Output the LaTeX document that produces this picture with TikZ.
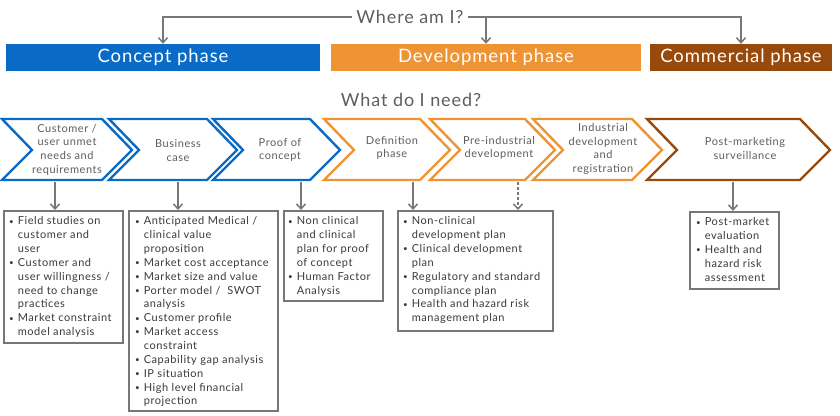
\documentclass[tikz,border=0pt]{standalone}
\usepackage{fontspec}
\setmainfont{Lato}[LetterSpace=5]
\usetikzlibrary{arrows.meta}
\definecolor{cblue}{HTML}{0A6BC6}
\definecolor{corange}{HTML}{EE9434}
\definecolor{cbrown}{HTML}{984A0C}
\definecolor{cgray}{HTML}{777777}
\definecolor{ctext}{HTML}{5E5E5E}
\definecolor{cbody}{HTML}{3A3A3A}
\newcommand\bul{\raisebox{0.8pt}{\fontsize{8}{8}\selectfont\textbullet}}
\tikzset{
  phasebar/.style={rectangle, minimum height=27pt, inner sep=0pt, text=white, font=\fontsize{18.5}{20}\selectfont},
  title/.style={text=ctext, font=\fontsize{18}{20}\selectfont, inner sep=4pt},
  chevtext/.style={text=ctext, font=\fontsize{11}{13.7}\selectfont, align=center, inner sep=0pt},
  chevline/.style={line width=2.4pt, fill=white, line join=miter},
  conn/.style={draw=cgray, line width=1.8pt, -{Straight Barb[length=5pt,width=9pt,line width=1.5pt]}},
  infobox/.style={draw=cgray, line width=1.8pt, fill=white, rectangle, inner sep=0pt, anchor=north west},
  boxtext/.style={text=cbody, font=\fontsize{11}{13.85}\selectfont, anchor=north west, inner sep=0pt, align=left},
}
\begin{document}
\begin{tikzpicture}[x=1pt,y=-1pt]
\useasboundingbox[fill=white] (0,0) rectangle (840,415);

% titles and phase bars
\node[title] (where) at (410,17) {Where am I?};
\node[phasebar, fill=cblue, minimum width=314pt] (concept) at (163,57.5) {Concept phase};
\node[phasebar, fill=corange, minimum width=310pt] (dev) at (486,57.5) {Development phase};
\node[phasebar, fill=cbrown, minimum width=182pt] (comm) at (741,57.5) {Commercial phase};
\node[title] (need) at (411,100) {What do I need?};

\draw[conn] (where.west) -| (concept.north);
\draw[conn] (where.east) -| (comm.north);
\draw[conn] (where.east -| dev.north) -- (dev.north);

% chevrons
\draw[chevline, draw=cblue] (2,119) -- (102,119) -- (132,150) -- (102,180) -- (2,180) -- (32,150) -- cycle;
\draw[chevline, draw=cblue] (109,119) -- (207,119) -- (237,150) -- (207,180) -- (109,180) -- (139,150) -- cycle;
\draw[chevline, draw=cblue] (213,119) -- (310,119) -- (340,150) -- (310,180) -- (213,180) -- (243,150) -- cycle;
\draw[chevline, draw=corange] (324,119) -- (420,119) -- (450,150) -- (420,180) -- (324,180) -- (354,150) -- cycle;
\draw[chevline, draw=corange] (430,119) -- (525,119) -- (555,150) -- (525,180) -- (430,180) -- (460,150) -- cycle;
\draw[chevline, draw=corange] (533,119) -- (632,119) -- (662,150) -- (632,180) -- (533,180) -- (563,150) -- cycle;
\draw[chevline, draw=cbrown] (647,119) -- (800,119) -- (830,150) -- (800,180) -- (647,180) -- (677,150) -- cycle;

\node[chevtext] (c1) at (67,149.5) {Customer /\\user unmet\\needs and\\requirements};
\node[chevtext] (c2) at (178,150.5) {Business\\case};
\node[chevtext] (c3) at (280,150) {Proof of\\concept};
\node[chevtext] (c4) at (392,148) {Definition\\phase};
\node[chevtext] (c5) at (499,148) {Pre-industrial\\development};
\node[chevtext] (c6) at (603,149) {Industrial\\development\\and\\registration};
\node[chevtext] (c7) at (745,148.5) {Post-marketing\\surveillance};

\coordinate (k1) at (55,182);
\coordinate (k2) at (178,182);
\coordinate (k3) at (301,182);
\coordinate (k4) at (413,182);
\coordinate (k5) at (518,182);
\coordinate (k7) at (733,182);

% boxes
\node[infobox, minimum width=119pt, minimum height=132pt] (b1) at (3,210) {};
\node[infobox, minimum width=149pt, minimum height=200pt] (b2) at (128,210) {};
\node[infobox, minimum width=99pt, minimum height=90pt] (b3) at (283,210) {};
\node[infobox, minimum width=155pt, minimum height=120pt] (b4) at (397,210) {};
\node[infobox, minimum width=89pt, minimum height=77pt] (b5) at (689,211) {};

\draw[conn] (k1) -- (k1 |- b1.north);
\draw[conn] (k2) -- (k2 |- b2.north);
\draw[conn] (k3) -- (k3 |- b3.north);
\draw[conn] (k4) -- (k4 |- b4.north);
\draw[conn, densely dashed] (k5) -- (k5 |- b4.north);
\draw[conn] (k7) -- (k7 |- b5.north);

\node[boxtext] (t1) at ([shift={(6,5)}]b1.north west) {\begin{tabular}{@{}l@{\hspace{4pt}}l@{}}
\bul & Field studies on\\ & customer and\\ & user\\
\bul & Customer and\\ & user willingness /\\ & need to change\\ & practices\\
\bul & Market constraint\\ & model analysis
\end{tabular}};
\node[boxtext] (t2) at ([shift={(7,5)}]b2.north west) {\begin{tabular}{@{}l@{\hspace{4pt}}l@{}}
\bul & Anticipated Medical /\\ & clinical value\\ & proposition\\
\bul & Market cost acceptance\\
\bul & Market size and value\\
\bul & Porter model /\ \ SWOT\\ & analysis\\
\bul & Customer profile\\
\bul & Market access\\ & constraint\\
\bul & Capability gap analysis\\
\bul & IP situation\\
\bul & High level financial\\ & projection
\end{tabular}};
\node[boxtext] (t3) at ([shift={(5,5)}]b3.north west) {\begin{tabular}{@{}l@{\hspace{4pt}}l@{}}
\bul & Non clinical\\ & and clinical\\ & plan for proof\\ & of concept\\
\bul & Human Factor\\ & Analysis
\end{tabular}};
\node[boxtext] (t4) at ([shift={(6,5)}]b4.north west) {\begin{tabular}{@{}l@{\hspace{4pt}}l@{}}
\bul & Non-clinical\\ & development plan\\
\bul & Clinical development\\ & plan\\
\bul & Regulatory and standard\\ & compliance plan\\
\bul & Health and hazard risk\\ & management plan
\end{tabular}};
\node[boxtext] (t5) at ([shift={(7,5)}]b5.north west) {\begin{tabular}{@{}l@{\hspace{4pt}}l@{}}
\bul & Post-market\\ & evaluation\\
\bul & Health and\\ & hazard risk\\ & assessment
\end{tabular}};
\end{tikzpicture}
\end{document}
